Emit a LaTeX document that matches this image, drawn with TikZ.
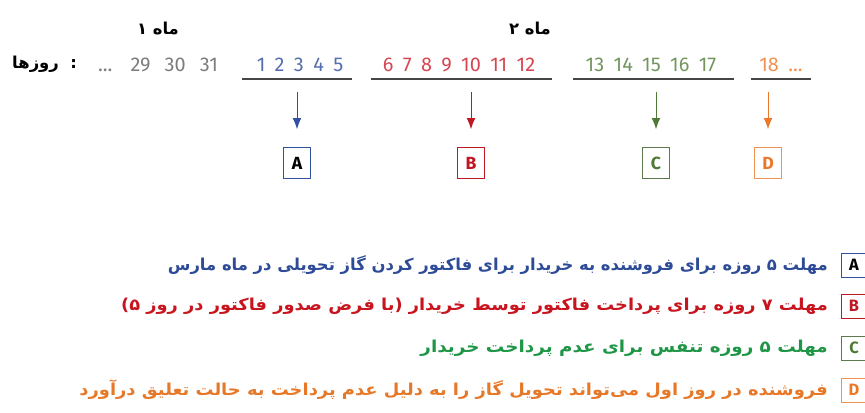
\documentclass[tikz,border=0pt]{standalone}
\usepackage{fontspec}
\usetikzlibrary{arrows.meta}
\setmainfont{Fira Sans}
\newfontfamily\fafont[Script=Arabic]{DejaVu Sans}
\TeXXeTstate=1
\newcommand{\daygap}{\spaceskip=8pt plus 0pt minus 0pt\relax}
\newcommand{\widen}[2]{\scalebox{#1}[1]{#2}}

\definecolor{dayGray}{RGB}{125,125,125}
\definecolor{dayBlue}{RGB}{85,110,175}
\definecolor{dayRed}{RGB}{215,70,80}
\definecolor{dayGreen}{RGB}{115,150,95}
\definecolor{dayOrange}{RGB}{240,145,80}
\definecolor{arrBlue}{RGB}{50,80,160}
\definecolor{arrRed}{RGB}{190,25,35}
\definecolor{arrGreen}{RGB}{80,120,55}
\definecolor{arrOrange}{RGB}{235,120,40}
\definecolor{txtBlue}{RGB}{45,75,150}
\definecolor{txtRed}{RGB}{200,20,30}
\definecolor{txtGreen}{RGB}{30,150,70}
\definecolor{txtOrange}{RGB}{230,120,40}
\definecolor{lineGray}{RGB}{70,70,70}

\begin{document}
\begin{tikzpicture}[x=0.03cm,y=-0.03cm,
  days/.style={font=\fontsize{17}{20}\selectfont, inner sep=0pt},
  fatext/.style={font=\fafont\bfseries\fontsize{14}{17}\selectfont, inner sep=0pt},
  tagbox/.style={draw=#1, line width=0.8pt, minimum width=0.8cm, minimum height=0.92cm,
    inner sep=0pt, font=\bfseries\fontsize{15}{18}\selectfont},
  keybox/.style={draw=#1, line width=0.8pt, minimum width=0.78cm, minimum height=0.72cm,
    inner sep=0pt, font=\bfseries\fontsize{14}{17}\selectfont},
  pointer/.style={draw=#1, line width=0.8pt, -{Latex[length=9.5pt,width=7.5pt]}, shorten >=0.54cm},
  underline/.style={draw=lineGray, line width=1.4pt}]
\useasboundingbox (0,0) rectangle (865,412);

% months
\node[fatext] (month1) at (158,29) {\beginR ماه ۱\endR};
\node[fatext] (month2) at (530,29) {\beginR ماه ۲\endR};

% days row
\node[fatext, anchor=west] (dayLabel) at (12,64) {\beginR :\ \ روزها\endR};
\node[days, text=dayGray] (daysOld) at (158,65) {\daygap ...\hspace{6pt} 29\hspace{4pt} 30\hspace{4pt} 31};
\node[days, text=dayBlue] (daysA) at (300,65) {\daygap 1 2 3 4 5};
\node[days, text=dayRed] (daysB) at (459,65) {\daygap 6 7 8 9 10 11 12};
\node[days, text=dayGreen] (daysC) at (651,65) {\daygap 13 14 15 16 17};
\node[days, text=dayOrange] (daysD) at (781,65) {\daygap 18 ...};

\draw[underline] (242,79) -- (352,79);
\draw[underline] (371,79) -- (552,79);
\draw[underline] (573,79) -- (734,79);
\draw[underline] (751,79) -- (811,79);

% boxes under the periods
\node[tagbox=arrBlue] (tagA) at (297,163) {A};
\node[tagbox=arrRed, text=arrRed] (tagB) at (471,163) {B};
\node[tagbox=arrGreen!70!gray, text=arrGreen] (tagC) at (656,163) {C};
\node[tagbox=arrOrange!80, text=arrOrange] (tagD) at (768,163) {D};

\coordinate (startA) at (297,92);
\coordinate (startB) at (471,92);
\coordinate (startC) at (656,92);
\coordinate (startD) at (768,92);
\draw[pointer=arrBlue] (startA) -- (tagA);
\draw[pointer=arrRed] (startB) -- (tagB);
\draw[pointer=arrGreen] (startC) -- (tagC);
\draw[pointer=arrOrange] (startD) -- (tagD);

% legend
\node[keybox=arrBlue] (keyA) at (854,265) {A};
\node[keybox=arrRed, text=arrRed] (keyB) at (854,306) {B};
\node[keybox=arrGreen!70!gray, text=arrGreen] (keyC) at (854,348) {C};
\node[keybox=arrOrange!80, text=arrOrange] (keyD) at (854,390) {D};

\node[fatext, text=txtBlue, anchor=east] (textA) at (828,265)
  {\beginR مهلت ۵ روزه برای فروشنده به خریدار برای فاکتور کردن گاز تحویلی در ماه مارس\endR};
\node[fatext, text=txtRed, anchor=east] (textB) at (828,306)
  {\widen{1.085}{\beginR مهلت ۷ روزه برای پرداخت فاکتور توسط خریدار (با فرض صدور فاکتور در روز ۵)\endR}};
\node[fatext, text=txtGreen, anchor=east] (textC) at (828,348)
  {\widen{1.12}{\beginR مهلت ۵ روزه تنفس برای عدم پرداخت خریدار\endR}};
\node[fatext, text=txtOrange, anchor=east] (textD) at (828,390)
  {\widen{1.09}{\beginR فروشنده در روز اول می‌تواند تحویل گاز را به دلیل عدم پرداخت به حالت تعلیق درآورد\endR}};
\end{tikzpicture}
\end{document}
